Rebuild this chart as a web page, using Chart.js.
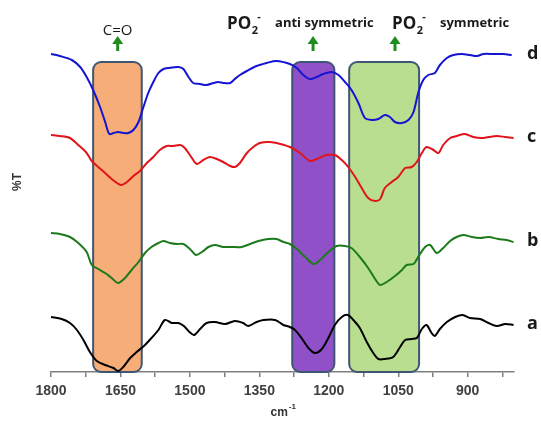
<!DOCTYPE html>
<html>
<head>
<meta charset="utf-8">
<script src="https://cdn.jsdelivr.net/npm/chart.js@4.4.1/dist/chart.umd.min.js"></script>
<style>
  html, body { margin: 0; padding: 0; background: #ffffff; }
  #wrap { width: 541px; height: 424px; }
</style>
</head>
<body>
<div id="wrap"><canvas id="c" width="541" height="424"></canvas></div>
<script>
// ---- data (wavenumber in cm-1, transmittance in arbitrary offset units) ----
const dWn = [1800,1781,1755,1737,1723,1709,1694,1683,1674,1665,1655,1644,1633,1622,1611,1601,1590,1579,1568,1557,1547,1525,1514,1503,1493,1478,1464,1449,1439,1428,1413,1403,1392,1377,1356,1334,1313,1284,1269,1255,1241,1226,1212,1194,1179,1165,1151,1136,1122,1107,1093,1079,1068,1057,1042,1028,1017,1007,996,985,971,960,945,931,913,895,880,866,845,823,805];
const dT  = [318,316,312,305,295,282,265,250,238,239,240,239,239,242,250,264,279,290,299,303,304,305,303,295,289,288,287,289,290,289,289,293,297,301,306,309,311,308,304,297,293,295,298,300,297,290,282,269,254,252,253,257,255,250,249,252,260,279,292,297,299,307,314,317,318,317,316,318,318,318,317];

const cWn = [1800,1781,1759,1741,1723,1712,1698,1683,1669,1649,1636,1622,1608,1593,1579,1565,1550,1536,1521,1511,1500,1485,1471,1457,1442,1428,1413,1403,1392,1377,1363,1349,1327,1305,1284,1262,1241,1226,1205,1187,1172,1158,1143,1129,1115,1100,1089,1079,1064,1050,1035,1021,1010,999,989,974,963,953,938,924,906,888,870,855,837,819,801];
const cT  = [237,236,234,227,219,211,205,199,193,187,190,196,201,209,215,222,226,226,227,224,217,208,212,215,213,210,206,205,209,219,225,229,230,228,225,219,211,213,217,217,212,205,195,184,174,171,173,184,190,195,204,205,210,219,225,222,219,227,234,236,238,235,234,235,236,235,234];

const bWn = [1800,1781,1759,1741,1723,1712,1698,1683,1669,1655,1640,1626,1611,1597,1583,1568,1557,1543,1528,1514,1500,1487,1474,1460,1446,1428,1410,1388,1370,1352,1331,1313,1298,1284,1269,1251,1233,1219,1201,1183,1165,1151,1133,1115,1100,1089,1075,1057,1042,1032,1017,1007,992,981,967,953,938,924,909,891,873,855,834,816,801];
const bT  = [139,138,135,129,120,107,103,99,94,89,94,102,110,119,125,129,131,129,128,128,123,117,120,125,127,125,125,125,128,131,133,133,130,128,123,115,108,112,120,126,126,124,115,104,93,87,90,96,102,107,108,115,125,127,119,124,131,135,137,135,134,135,133,132,130];

const aWn = [1800,1777,1759,1744,1730,1716,1701,1683,1665,1655,1644,1629,1615,1597,1583,1568,1554,1539,1525,1513,1501,1491,1478,1464,1446,1424,1403,1385,1374,1356,1341,1316,1298,1284,1273,1259,1244,1230,1215,1201,1187,1172,1159,1147,1133,1118,1104,1093,1079,1061,1046,1035,1021,1010,999,989,978,971,960,945,927,911,895,873,855,837,819,801];
const aT  = [55,53,49,42,32,20,11,7,4,1,5,14,20,27,34,42,52,49,49,46,40,37,43,49,50,48,51,49,46,50,52,52,47,45,42,34,24,19,23,34,47,55,57,52,44,30,19,13,13,15,25,32,33,34,43,47,39,36,43,50,55,57,54,53,49,46,48,47];

const seriesNames = ['d', 'c', 'b', 'a'];

// highlighted bands (cm-1)
const bandNames = ['C=O', 'PO2- anti symmetric', 'PO2- symmetric'];
const bandFrom  = [1709, 1279, 1156];
const bandTo    = [1604, 1188, 1005];
const bandTop   = 310;
const arrowAt   = [1656, 1234, 1057];

// axis ticks
const tickMarks  = [1800,1725,1650,1575,1500,1425,1350,1275,1200,1125,1050,975,900,825];
const tickLabels = [1800,1650,1500,1350,1200,1050,900];

// ---- styles ----
const lineColors = ['#1414d2', '#e0141a', '#1b7a1b', '#000000'];
const bandFill   = ['#f6ad78', '#9050c8', '#b9de8f'];
const bandStroke = '#3f5672';
const arrowColor = '#1f8c1f';
const textColor  = '#1a1a1a';

function pts(wn, t) { return wn.map((w, i) => ({ x: w, y: t[i] })); }

const datasets = [[dWn, dT], [cWn, cT], [bWn, bT], [aWn, aT]].map((s, i) => ({
  label: seriesNames[i],
  data: pts(s[0], s[1]),
  borderColor: lineColors[i],
  borderWidth: 2,
  pointRadius: 0,
  tension: 0.3,
  fill: false,
  clip: false
}));

const bandsPlugin = {
  id: 'bands',
  beforeDatasetsDraw(chart) {
    const { ctx, scales: { x, y } } = chart;
    ctx.save();
    for (let i = 0; i < bandFrom.length; i++) {
      const x0 = x.getPixelForValue(bandFrom[i]);
      const x1 = x.getPixelForValue(bandTo[i]);
      const y0 = y.getPixelForValue(bandTop);
      const y1 = y.getPixelForValue(0);
      ctx.beginPath();
      ctx.roundRect(x0, y0, x1 - x0, y1 - y0, 8);
      ctx.fillStyle = bandFill[i];
      ctx.fill();
      ctx.lineWidth = 2;
      ctx.strokeStyle = bandStroke;
      ctx.stroke();
    }
    ctx.restore();
  }
};

function drawArrow(ctx, cx) {
  ctx.save();
  ctx.strokeStyle = arrowColor;
  ctx.fillStyle = arrowColor;
  ctx.lineWidth = 3;
  ctx.beginPath();
  ctx.moveTo(cx, 51);
  ctx.lineTo(cx, 42);
  ctx.stroke();
  ctx.beginPath();
  ctx.moveTo(cx, 36);
  ctx.lineTo(cx - 5.5, 44);
  ctx.lineTo(cx + 5.5, 44);
  ctx.closePath();
  ctx.fill();
  ctx.restore();
}

function drawPO2(ctx, left) {
  ctx.font = 'bold 17px "Open Sans"';
  ctx.textAlign = 'left';
  ctx.textBaseline = 'alphabetic';
  ctx.fillText('PO', left, 29);
  const w = ctx.measureText('PO').width;
  ctx.font = 'bold 11px "Open Sans"';
  ctx.fillText('2', left + w + 0.5, 34);
  ctx.fillText('-', left + w + 6, 20);
}

const labelsPlugin = {
  id: 'labels',
  afterDraw(chart) {
    const { ctx, chartArea, scales: { x, y } } = chart;
    ctx.save();
    ctx.fillStyle = textColor;

    // arrows
    const ax = arrowAt.map(v => x.getPixelForValue(v));
    ax.forEach(p => drawArrow(ctx, p));

    // C=O
    ctx.fillStyle = textColor;
    ctx.font = '15px "Open Sans"';
    ctx.textAlign = 'center';
    ctx.textBaseline = 'alphabetic';
    ctx.fillText('C=O', ax[0], 35);

    // PO2- anti symmetric
    drawPO2(ctx, ax[1] - 86);
    ctx.font = 'bold 13px "Open Sans"';
    ctx.textAlign = 'left';
    ctx.fillText('anti symmetric', ax[1] - 38, 27);

    // PO2- symmetric
    drawPO2(ctx, ax[2] - 3);
    ctx.font = 'bold 13px "Open Sans"';
    ctx.textAlign = 'left';
    ctx.fillText('symmetric', ax[2] + 45, 27);

    // series letters at right end
    ctx.font = 'bold 18px "Open Sans"';
    ctx.textAlign = 'left';
    ctx.textBaseline = 'middle';
    chart.data.datasets.forEach((ds, i) => {
      const last = ds.data[ds.data.length - 1];
      ctx.fillText(ds.label, chartArea.right + 13, y.getPixelForValue(last.y) - 1);
    });

    // y-axis title %T
    ctx.save();
    ctx.translate(18, 182);
    ctx.rotate(-Math.PI / 2);
    ctx.font = 'bold 12px "Liberation Sans"';
    ctx.fillStyle = '#333333';
    ctx.textAlign = 'center';
    ctx.textBaseline = 'middle';
    ctx.fillText('%T', 0, 0);
    ctx.restore();

    // x-axis title cm-1
    ctx.fillStyle = '#333333';
    ctx.font = 'bold 12px "Liberation Sans"';
    ctx.textAlign = 'left';
    ctx.textBaseline = 'alphabetic';
    const cmW = ctx.measureText('cm').width;
    const cx = (chartArea.left + chartArea.right) / 2 - 12;
    ctx.fillText('cm', cx, 416);
    ctx.font = 'bold 8px "Liberation Sans"';
    ctx.fillText('-1', cx + cmW + 1, 409);

    ctx.restore();
  }
};

new Chart(document.getElementById('c'), {
  type: 'line',
  data: { datasets },
  options: {
    responsive: false,
    animation: false,
    layout: { padding: { left: 51, right: 27, top: 10, bottom: 0 } },
    plugins: { legend: { display: false }, tooltip: { enabled: false } },
    scales: {
      x: {
        type: 'linear',
        reverse: true,
        min: 800,
        max: 1800,
        afterBuildTicks: (s) => { s.ticks = tickMarks.map(v => ({ value: v })); },
        afterFit: (s) => { s.height = 52; },
        ticks: {
          autoSkip: false,
          maxRotation: 0,
          padding: 6,
          color: '#404040',
          font: { family: '"Liberation Sans"', size: 14, weight: 'bold' },
          callback: (v) => tickLabels.includes(v) ? String(v) : ''
        },
        grid: { drawOnChartArea: false, drawTicks: true, tickLength: 5, color: '#7f7f7f', lineWidth: 1.5 },
        border: { display: true, color: '#7f7f7f', width: 1.5 }
      },
      y: {
        display: false,
        min: 0,
        max: 362
      }
    }
  },
  plugins: [bandsPlugin, labelsPlugin]
});
</script>
</body>
</html>
